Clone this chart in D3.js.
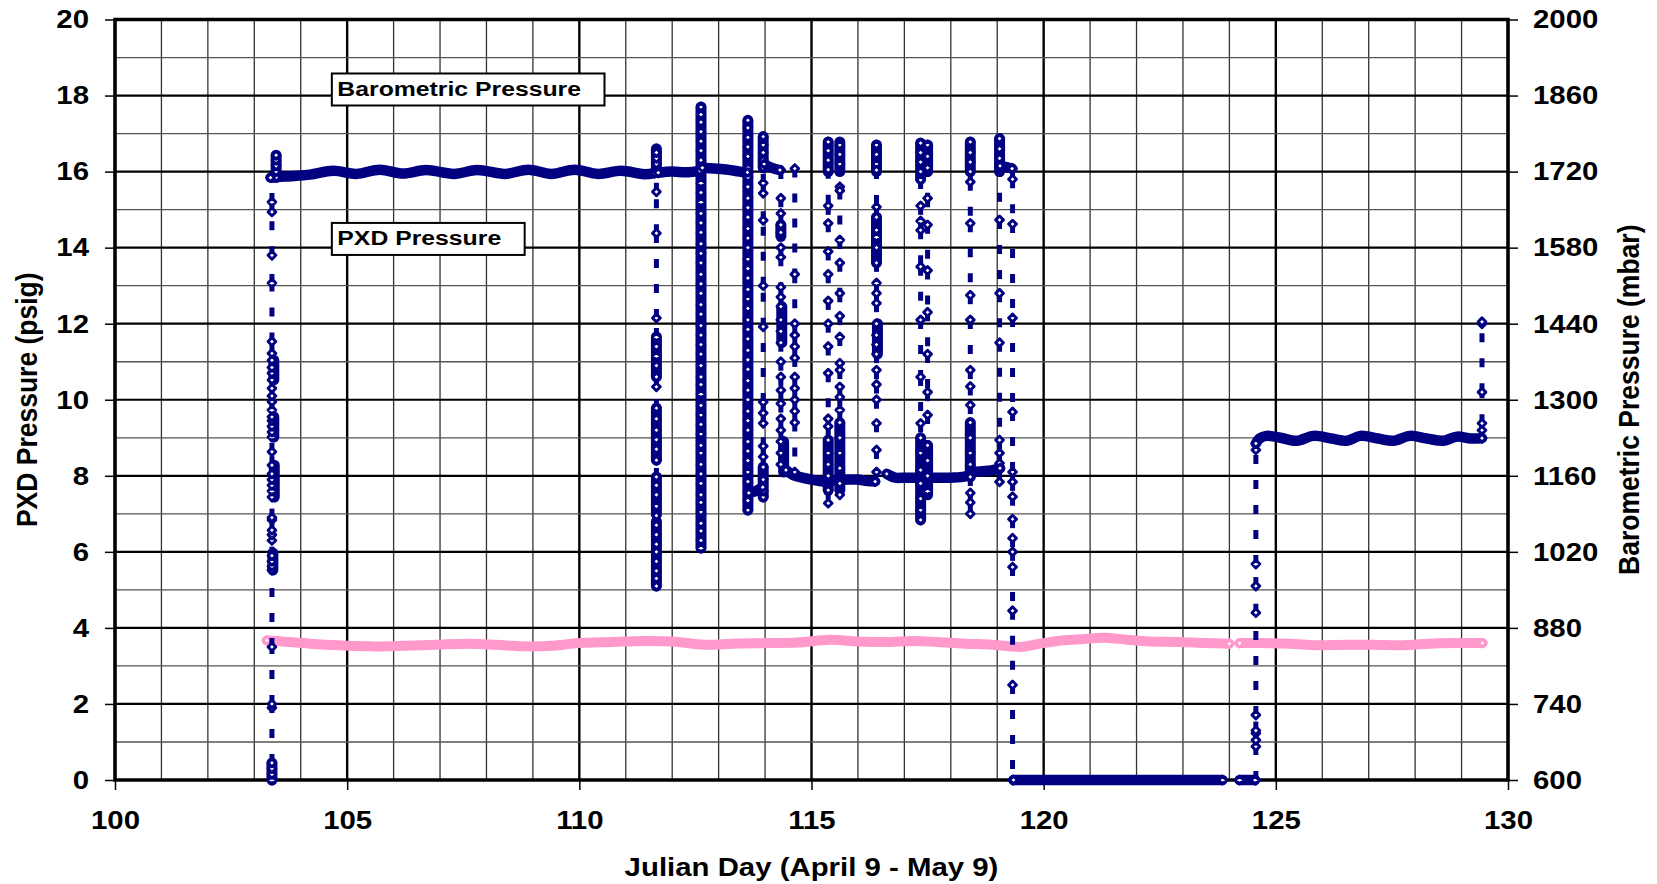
<!DOCTYPE html>
<html>
  <head>
    <meta charset="utf-8">
    <title>PXD and barometric pressure</title>
    <script src="https://d3js.org/d3.v7.min.js"></script>
    <style>
      body { margin: 0; background: #fff; }
      #chart { display: block; font-family: "Liberation Sans", Arial, sans-serif; font-weight: bold; }
    </style>
  </head>
  <body>
    <svg id="chart" width="1657" height="884"></svg>
    <script>
      // axis ticks
      dayTicks = [100, 105, 110, 115, 120, 125, 130];
      psigTicks = [0, 2, 4, 6, 8, 10, 12, 14, 16, 18, 20];
      mbarTicks = [600, 740, 880, 1020, 1160, 1300, 1440, 1580, 1720, 1860, 2000];
      notes = ["Barometric Pressure", "PXD Pressure"];

      // barometric pressure (mbar) by julian day, two logged runs
      baroRun1 = [[103.27, 857], [103.6, 855], [104.2, 851], [104.8, 848], [105.5, 846], [106.2, 847], [106.9, 849],
        [107.6, 851], [108.2, 849], [108.8, 846], [109.4, 847], [110.0, 852], [110.7, 854], [111.4, 856], [112.0, 855],
        [112.7, 849], [113.3, 851], [114.0, 852], [114.7, 853], [115.4, 858], [116.0, 855], [116.6, 854], [117.2, 856],
        [117.7, 854], [118.3, 851], [118.9, 849], [119.5, 845], [119.8, 849], [120.3, 856], [120.8, 859], [121.3, 862],
        [121.8, 858], [122.3, 855], [122.9, 854], [123.5, 852], [124.0, 851]];
      baroRun2 = [[124.22, 852], [124.7, 852], [125.3, 851], [125.9, 848], [126.5, 849], [127.1, 849], [127.7, 848],
        [128.3, 851], [128.9, 852], [129.45, 852]];

      // PXD pressure (psig): stretches sampled so densely they read as one band
      pxdHigh1 = [[103.35, 15.84], [103.5, 15.86], [103.8, 15.88], [104.2, 15.92], [104.7, 16.02], [105.2, 15.94],
        [105.7, 16.05], [106.2, 15.95], [106.7, 16.04], [107.3, 15.94], [107.8, 16.04], [108.4, 15.94], [108.9, 16.05],
        [109.4, 15.94], [109.9, 16.05], [110.4, 15.94], [110.9, 16.02], [111.4, 15.93], [111.62, 15.96]];
      pxdHigh2 = [[111.7, 15.97], [112.0, 16.0], [112.3, 15.98], [112.6, 16.02]];
      pxdHigh3 = [[112.65, 16.1], [112.9, 16.08], [113.2, 16.05], [113.45, 16.0], [113.62, 15.98]];
      pxdHigh4 = [[113.98, 16.2], [114.1, 16.12], [114.22, 16.07], [114.32, 16.04]];
      pxdHigh5 = [[119.06, 16.15], [119.2, 16.12], [119.32, 16.08]];
      pxdLow1 = [[113.65, 7.55], [113.8, 7.6], [113.95, 7.7]];
      pxdMid1 = [[114.45, 8.15], [114.6, 8.02], [114.8, 7.95], [115.0, 7.9], [115.25, 7.85], [115.5, 7.88], [115.8, 7.9],
        [116.0, 7.9], [116.2, 7.86], [116.37, 7.85]];
      pxdMid2 = [[116.62, 8.05], [116.8, 7.95], [117.0, 7.95], [117.3, 7.95], [117.6, 7.95], [118.0, 7.95], [118.3, 7.98],
        [118.5, 8.1], [118.7, 8.12], [118.9, 8.15], [119.06, 8.2]];
      pxdZero1 = [[119.35, 0], [123.85, 0]];
      pxdZero2 = [[124.22, 0], [124.55, 0]];
      pxdNine = [[124.57, 8.85], [124.65, 8.98], [124.8, 9.05], [125.1, 9.0], [125.45, 8.92], [125.81, 9.05], [126.2, 8.98],
        [126.53, 8.92], [126.82, 9.05], [127.2, 8.98], [127.53, 8.92], [127.89, 9.05], [128.25, 8.98], [128.61, 8.92],
        [128.9, 9.03], [129.2, 8.98], [129.44, 8.99]];

      // PXD pressure: dense vertical runs [day, low, high]
      pxdColumns = [[103.47, 15.85, 16.43], [103.42, 10.52, 11.04], [103.42, 9.02, 9.55], [103.43, 7.44, 8.28],
        [103.4, 5.52, 5.97], [103.38, 0, 0.45], [111.66, 16.0, 16.6], [111.66, 10.6, 11.65], [111.66, 8.41, 9.78],
        [111.66, 7.0, 7.97], [111.66, 5.1, 6.8], [112.62, 6.1, 17.7], [113.63, 7.1, 17.35], [113.96, 16.1, 16.92],
        [113.96, 7.44, 8.23], [114.34, 14.3, 14.6], [114.36, 11.5, 12.45], [114.4, 8.1, 8.9], [115.36, 16.0, 16.78],
        [115.36, 7.62, 8.94], [115.61, 16.0, 16.78], [115.61, 7.62, 9.4], [116.4, 16.0, 16.7], [116.4, 13.6, 14.8],
        [116.42, 11.2, 12.0], [117.35, 15.8, 16.75], [117.35, 6.84, 9.0], [117.5, 16.0, 16.7], [117.5, 7.5, 8.8],
        [118.42, 16.0, 16.78], [118.42, 7.97, 9.4], [119.05, 16.0, 16.87]];

      // PXD pressure: individual samples during the pressure swings
      pxdBursts = [
        { day: 103.38, psig: [0, 0.15, 0.3, 0.45, 1.9, 2.0, 3.5, 5.52, 5.62, 5.75, 5.9, 6.3, 6.45, 6.57, 6.84, 6.9, 7.44,
          7.6, 7.75, 7.9, 8.05, 8.28, 8.63, 9.02, 9.15, 9.3, 9.45, 9.55, 9.73, 9.95, 10.1, 10.3, 10.52, 10.7, 10.85,
          11.04, 11.22, 11.53, 13.07, 13.8, 14.94, 15.2, 15.85] },
        { day: 103.47, psig: [15.85, 16.0, 16.15, 16.3, 16.43] },
        { day: 111.66, psig: [5.1, 5.3, 5.5, 5.75, 6.0, 6.2, 6.45, 6.7, 6.95, 7.2, 7.5, 7.75, 7.97, 8.41, 8.7, 8.95, 9.2,
          9.5, 9.78, 10.34, 10.6, 10.9, 11.15, 11.4, 11.65, 12.15, 14.38, 15.47, 16.04, 16.2, 16.35, 16.5] },
        { day: 112.62, psig: [6.1, 6.3, 6.55, 6.75, 7.05, 7.3, 7.5, 7.8, 8.05, 8.3, 8.6, 8.8, 9.1, 9.35, 9.6, 9.85, 10.15,
          10.4, 10.6, 10.9, 11.2, 11.45, 11.7, 11.95, 12.25, 12.5, 12.8, 13.05, 13.3, 13.6, 13.85, 14.1, 14.4, 14.65,
          14.9, 15.2, 15.45, 15.7, 16.0, 16.3, 16.55, 16.8, 17.05, 17.3, 17.5, 17.7] },
        { day: 113.63, psig: [7.1, 7.35, 7.6, 7.85, 8.1, 8.4, 8.65, 8.9, 9.2, 9.45, 9.7, 10.0, 10.25, 10.5, 10.8, 11.05,
          11.3, 11.6, 11.85, 12.1, 12.4, 12.65, 12.9, 13.2, 13.45, 13.7, 14.0, 14.25, 14.5, 14.8, 15.05, 15.3, 15.6,
          15.85, 16.1, 16.4, 16.65, 16.9, 17.15, 17.35] },
        { day: 113.96, psig: [7.44, 7.6, 7.9, 8.23, 8.5, 8.78, 9.38, 9.65, 9.94, 11.92, 13.0, 14.72, 15.43, 15.7, 16.1,
          16.3, 16.5, 16.7, 16.92] },
        { day: 114.34, psig: [16.04, 15.3, 14.9, 14.6, 14.4, 14.0, 13.75, 12.96, 12.7, 12.45, 12.1, 11.8, 11.5, 11.0,
          10.6, 10.25, 9.9, 9.5, 9.2, 8.9, 8.6, 8.3] },
        { day: 114.64, psig: [16.08, 13.3, 12.0, 11.7, 11.4, 11.1, 10.6, 10.3, 10.0, 9.7, 9.4, 8.1] },
        { day: 115.36, psig: [16.78, 16.55, 16.3, 16.05, 15.1, 14.64, 13.9, 13.3, 12.6, 12.0, 11.4, 10.7, 9.5, 9.3, 8.94,
          8.6, 8.3, 8.0, 7.62, 7.28] },
        { day: 115.61, psig: [16.7, 16.45, 16.2, 15.6, 15.5, 14.2, 13.6, 12.8, 12.2, 11.65, 10.96, 10.78, 10.34, 10.07,
          9.73, 9.4, 9.0, 8.6, 8.2, 7.8, 7.5] },
        { day: 116.4, psig: [16.7, 16.45, 16.2, 16.04, 15.07, 14.8, 14.46, 14.28, 14.0, 13.6, 13.07, 12.8, 12.54, 12.0,
          11.7, 11.45, 11.2, 10.78, 10.4, 10.0, 9.38, 8.68, 8.1] },
        { day: 117.35, psig: [16.75, 16.5, 16.25, 16.0, 15.78, 15.1, 14.7, 14.46, 13.5, 12.1, 10.6, 9.38, 9.0, 8.6, 8.15,
          7.8, 7.4, 7.1, 6.84] },
        { day: 117.5, psig: [16.7, 16.4, 16.1, 15.3, 14.6, 13.4, 12.3, 11.2, 10.2, 9.6, 8.8, 8.4, 8.0, 7.6] },
        { day: 118.42, psig: [16.78, 16.5, 16.25, 16.0, 15.73, 14.64, 12.75, 12.1, 10.78, 10.35, 9.86, 9.4, 9.0, 8.6, 8.3,
          7.97, 7.55, 7.3, 7.0] },
        { day: 119.05, psig: [16.87, 16.6, 16.35, 16.1, 14.73, 12.8, 11.5, 8.94, 8.6, 8.33, 8.15, 7.84] },
        { day: 119.33, psig: [16.08, 15.8, 14.62, 12.15, 9.68, 8.1, 7.84, 7.45, 6.86, 6.36, 6.0, 5.6, 4.45, 2.5, 0] },
        { day: 124.57, psig: [0, 0.88, 1.05, 1.23, 1.3, 1.71, 4.4, 5.1, 5.68, 8.68, 8.85] },
        { day: 129.44, psig: [8.99, 9.2, 9.38, 10.2, 12.0, 12.05] }
      ];
      pxdBands = [pxdHigh1, pxdHigh2, pxdHigh3, pxdHigh4, pxdHigh5, pxdLow1, pxdMid1, pxdMid2, pxdZero1, pxdZero2, pxdNine];
      baroRuns = [baroRun1, baroRun2];

      // page elements
      chart = d3.select("#chart");
      width = 1657;
      height = 884;
      margin = { top: 19.5, right: 149, bottom: 104, left: 115 };
      stretch = 1.13;
      navy = "#000080";
      pink = "#ff99cc";

      // scales
      x = d3.scaleLinear().domain([100, 130]).range([margin.left, width - margin.right]);
      y = d3.scaleLinear().domain([0, 20]).range([height - margin.bottom, margin.top]);
      yRight = d3.scaleLinear().domain([600, 2000]).range(y.range());

      // grid
      gridGroup = chart.append("g");
      gridGroup.selectAll(".vgrid")
        .data(d3.range(100, 131))
        .join("line")
        .attr("class", "vgrid")
        .attr("x1", d => x(d)).attr("x2", d => x(d))
        .attr("y1", y(0)).attr("y2", y(20))
        .attr("stroke", d => d % 5 == 0 ? "#000" : "#333")
        .attr("stroke-width", d => d % 5 == 0 ? 2.4 : 1.3);
      gridGroup.selectAll(".hgrid")
        .data(d3.range(0, 21))
        .join("line")
        .attr("class", "hgrid")
        .attr("x1", x(100)).attr("x2", x(130))
        .attr("y1", d => y(d)).attr("y2", d => y(d))
        .attr("stroke", d => d % 2 == 0 ? "#000" : "#555")
        .attr("stroke-width", d => d % 2 == 0 ? 2.2 : 1.3);
      chart.append("rect")
        .attr("x", x(100)).attr("y", y(20))
        .attr("width", x(130) - x(100)).attr("height", y(0) - y(20))
        .attr("fill", "none").attr("stroke", "#000").attr("stroke-width", 3.5);

      // axes
      function styleAxis(g) {
        g.attr("font-family", null).attr("font-size", 26).attr("font-weight", "bold");
        g.select(".domain").remove();
        g.selectAll(".tick line").attr("stroke", "#000").attr("stroke-width", 1.5);
        g.selectAll(".tick text").attr("fill", "#000");
      }
      bottomAxis = chart.append("g")
        .attr("transform", "translate(0," + y(0) + ")")
        .call(d3.axisBottom(x).tickValues(dayTicks).tickSize(10).tickSizeOuter(0).tickFormat(d3.format("d")))
        .call(styleAxis);
      bottomAxis.selectAll(".tick text")
        .attr("y", 49).attr("dy", null)
        .attr("transform", "scale(" + stretch + ",1)");
      leftAxis = chart.append("g")
        .attr("transform", "translate(" + x(100) + ",0)")
        .call(d3.axisLeft(y).tickValues(psigTicks).tickSize(10).tickSizeOuter(0).tickFormat(d3.format("d")))
        .call(styleAxis);
      leftAxis.selectAll(".tick text")
        .attr("x", -26 / stretch)
        .attr("transform", "scale(" + stretch + ",1)");
      rightAxis = chart.append("g")
        .attr("transform", "translate(" + x(130) + ",0)")
        .call(d3.axisRight(yRight).tickValues(mbarTicks).tickSize(10).tickSizeOuter(0).tickFormat(d3.format("d")))
        .call(styleAxis);
      rightAxis.selectAll(".tick text")
        .attr("x", 25 / stretch)
        .attr("transform", "scale(" + stretch + ",1)");

      // axis titles
      plotMid = (x(100) + x(130)) / 2;
      chart.append("text")
        .attr("transform", "translate(" + plotMid + ",876) scale(" + stretch + ",1)")
        .attr("text-anchor", "middle").attr("font-size", 26)
        .text("Julian Day (April 9 - May 9)");
      chart.append("text")
        .attr("transform", "translate(37," + y(10) + ") scale(" + stretch + ",1) rotate(-90)")
        .attr("text-anchor", "middle").attr("font-size", 26.5)
        .text("PXD Pressure (psig)");
      chart.append("text")
        .attr("transform", "translate(1639," + y(10) + ") scale(" + stretch + ",1) rotate(-90)")
        .attr("text-anchor", "middle").attr("font-size", 26.5)
        .text("Barometric Pressure (mbar)");

      // markers
      function diamond(r) {
        return "M0," + (-r) + "L" + r + ",0L0," + r + "L" + (-r) + ",0Z";
      }
      function addMarkers(g, points, yScale, colour) {
        g.selectAll(null)
          .data(points)
          .join("path")
          .attr("transform", d => "translate(" + x(d[0]) + "," + yScale(d[1]) + ")")
          .attr("d", diamond(3.9))
          .attr("fill", "#fff")
          .attr("stroke", colour)
          .attr("stroke-width", 2.9)
          .attr("stroke-linejoin", "round");
      }

      // barometric series
      baroLine = d3.line().x(d => x(d[0])).y(d => yRight(d[1])).curve(d3.curveCatmullRom);
      baroGroup = chart.append("g");
      baroGroup.selectAll("path.run")
        .data(baroRuns)
        .join("path")
        .attr("class", "run")
        .attr("d", baroLine)
        .attr("fill", "none").attr("stroke", pink)
        .attr("stroke-width", 10).attr("stroke-linecap", "round").attr("stroke-linejoin", "round");
      addMarkers(baroGroup.append("g"), baroRuns.flatMap(r => [r[0], r[r.length - 1]]), yRight, pink);

      // PXD series
      pxdGroup = chart.append("g");
      pxdLine = d3.line().x(d => x(d[0])).y(d => y(d[1])).curve(d3.curveCatmullRom);
      pxdGroup.selectAll("path.band")
        .data(pxdBands)
        .join("path")
        .attr("class", "band")
        .attr("d", pxdLine)
        .attr("fill", "none").attr("stroke", navy)
        .attr("stroke-width", 10.5).attr("stroke-linecap", "round").attr("stroke-linejoin", "round");
      pxdGroup.selectAll("line.column")
        .data(pxdColumns)
        .join("line")
        .attr("class", "column")
        .attr("x1", d => x(d[0])).attr("x2", d => x(d[0]))
        .attr("y1", d => y(d[1])).attr("y2", d => y(d[2]))
        .attr("stroke", navy).attr("stroke-width", 11).attr("stroke-linecap", "round");
      burstPoints = pxdBursts.map(b => b.psig.map(v => [b.day, v]));
      // each segment dashed on its own, as the logger plot does
      pxdGroup.selectAll("line.step")
        .data(burstPoints.flatMap(p => d3.pairs(p)))
        .join("line")
        .attr("class", "step")
        .attr("x1", d => x(d[0][0])).attr("y1", d => y(d[0][1]))
        .attr("x2", d => x(d[1][0])).attr("y2", d => y(d[1][1]))
        .attr("stroke", navy).attr("stroke-width", 5)
        .attr("stroke-dasharray", "9 16");
      addMarkers(pxdGroup.append("g"), burstPoints.flat(), y, navy);
      addMarkers(pxdGroup.append("g"), pxdBands.flatMap(r => [r[0], r[r.length - 1]]), y, navy);

      // series labels
      noteY = [18.58, 14.65];
      noteGroup = chart.selectAll("g.note")
        .data(notes)
        .join("g")
        .attr("class", "note")
        .attr("transform", (d, i) => "translate(" + x(104.67) + "," + y(noteY[i]) + ")");
      noteRects = noteGroup.append("rect")
        .attr("height", 32)
        .attr("fill", "#fff").attr("stroke", "#000").attr("stroke-width", 2);
      noteTexts = noteGroup.append("text")
        .attr("transform", "translate(5.5,22.5) scale(1.18,1)")
        .attr("font-size", 21)
        .text(d => d);
      noteTexts.each(function(d, i) {
        let w = this.getComputedTextLength() * 1.18;
        d3.select(noteRects.nodes()[i]).attr("width", w + 29);
      });
    </script>
  </body>
</html>
